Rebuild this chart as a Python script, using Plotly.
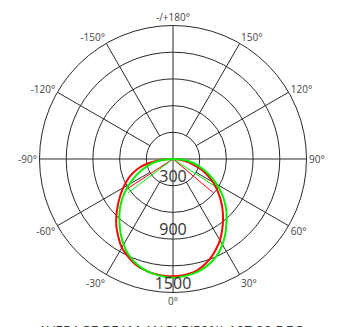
import plotly.graph_objects as go

# C0/180 plane (red) and C90/270 plane (green): intensity vs angle
angles = [-90, -85, -80, -75, -70, -65, -60, -55, -50, -45, -40, -35, -30, -25, -20, -15, -10,
          0, 10, 15, 20, 25, 30, 35, 40, 45, 50, 55, 60, 65, 70, 75, 80, 85, 90]
red_values = [0, 150, 290, 400, 490, 570, 645, 725, 810, 900, 990, 1070, 1150, 1205, 1255, 1285, 1305,
              1318, 1295, 1255, 1200, 1130, 1055, 965, 875, 785, 695, 605, 520, 425, 330, 230, 140, 65, 0]
green_values = [0, 110, 210, 295, 380, 470, 565, 665, 760, 850, 935, 1025, 1110, 1185, 1240, 1280, 1308,
                1333, 1308, 1280, 1240, 1185, 1110, 1025, 935, 850, 760, 665, 565, 470, 380, 295, 210, 110, 0]

# half-beam-angle markers (angle, intensity) left / right
red_beam_angles = [-57, 50]
red_beam_values = [624, 590]
green_beam_angles = [-53, 57]
green_beam_values = [634, 628]

ring_values = [300, 600, 900, 1200, 1500]
label_values = [300, 900, 1500]
label_texts = ["300", "900", "1500"]
angle_ticks = [0, 30, 60, 90, 120, 150, 180, 210, 240, 270, 300, 330]
angle_labels = ["0°", "30°", "60°", "90°", "120°", "150°", "-/+180°",
                "-150°", "-120°", "-90°", "-60°", "-30°"]
title_text = "AVERAGE BEAM ANGLE(50%):107.20 DEG"

GRID = "#2a2a2a"
fig = go.Figure()

# spokes: axes through the centre, others starting at the first ring
sr, st = [], []
for a in angle_ticks:
    start = 0 if a % 90 == 0 else ring_values[0]
    sr += [start, ring_values[-1], None]
    st += [a, a, None]
fig.add_trace(go.Scatterpolar(r=sr, theta=st, mode="lines",
                              line=dict(color=GRID, width=1), hoverinfo="skip",
                              showlegend=False))

# beam lines
fig.add_trace(go.Scatterpolar(r=[red_beam_values[0], 0, red_beam_values[1]],
                              theta=[red_beam_angles[0], 0, red_beam_angles[1]],
                              mode="lines", line=dict(color="#ff0000", width=1),
                              showlegend=False))
fig.add_trace(go.Scatterpolar(r=[green_beam_values[0], 0, green_beam_values[1]],
                              theta=[green_beam_angles[0], 0, green_beam_angles[1]],
                              mode="lines", line=dict(color="#00ee00", width=1),
                              showlegend=False))

fig.add_trace(go.Scatterpolar(r=red_values, theta=angles, mode="lines",
                              line=dict(color="#ff0000", width=2, shape="spline", smoothing=1),
                              showlegend=False))
fig.add_trace(go.Scatterpolar(r=green_values, theta=angles, mode="lines",
                              line=dict(color="#00ee00", width=2, shape="spline", smoothing=1),
                              showlegend=False))

# radial value labels
fig.add_trace(go.Scatterpolar(r=label_values, theta=[0] * len(label_values),
                              mode="text", text=label_texts, textposition="top center",
                              textfont=dict(family="Open Sans", size=16, color="#333333"),
                              showlegend=False))

dx, dy = 8, 7.5
fig.update_layout(
    width=360, height=327,
    margin=dict(l=0, r=0, t=0, b=0),
    paper_bgcolor="white",
    font=dict(family="Open Sans", color="#444444"),
    polar=dict(
        domain=dict(x=[(39.5 - dx) / 360, (306.5 - dx) / 360],
                    y=[1 - (292 - dy) / 327, 1 - (25 - dy) / 327]),
        bgcolor="white",
        angularaxis=dict(rotation=-90, direction="counterclockwise",
                         tickmode="array", tickvals=angle_ticks, ticktext=angle_labels,
                         showgrid=False, showline=True, linecolor=GRID, linewidth=1,
                         ticks="", tickfont=dict(size=10, color="#444444")),
        radialaxis=dict(range=[0, 1500], tickmode="array", tickvals=ring_values,
                        showgrid=True, gridcolor=GRID, gridwidth=1,
                        showticklabels=False, showline=False, ticks=""),
    ),
    annotations=[dict(text=title_text, x=0.4514, y=0.0, xref="paper", yref="paper",
                      xanchor="center", yanchor="top", yshift=16, showarrow=False,
                      font=dict(family="Open Sans", size=14, color="#333333"))],
)

fig.write_html("out.html")
